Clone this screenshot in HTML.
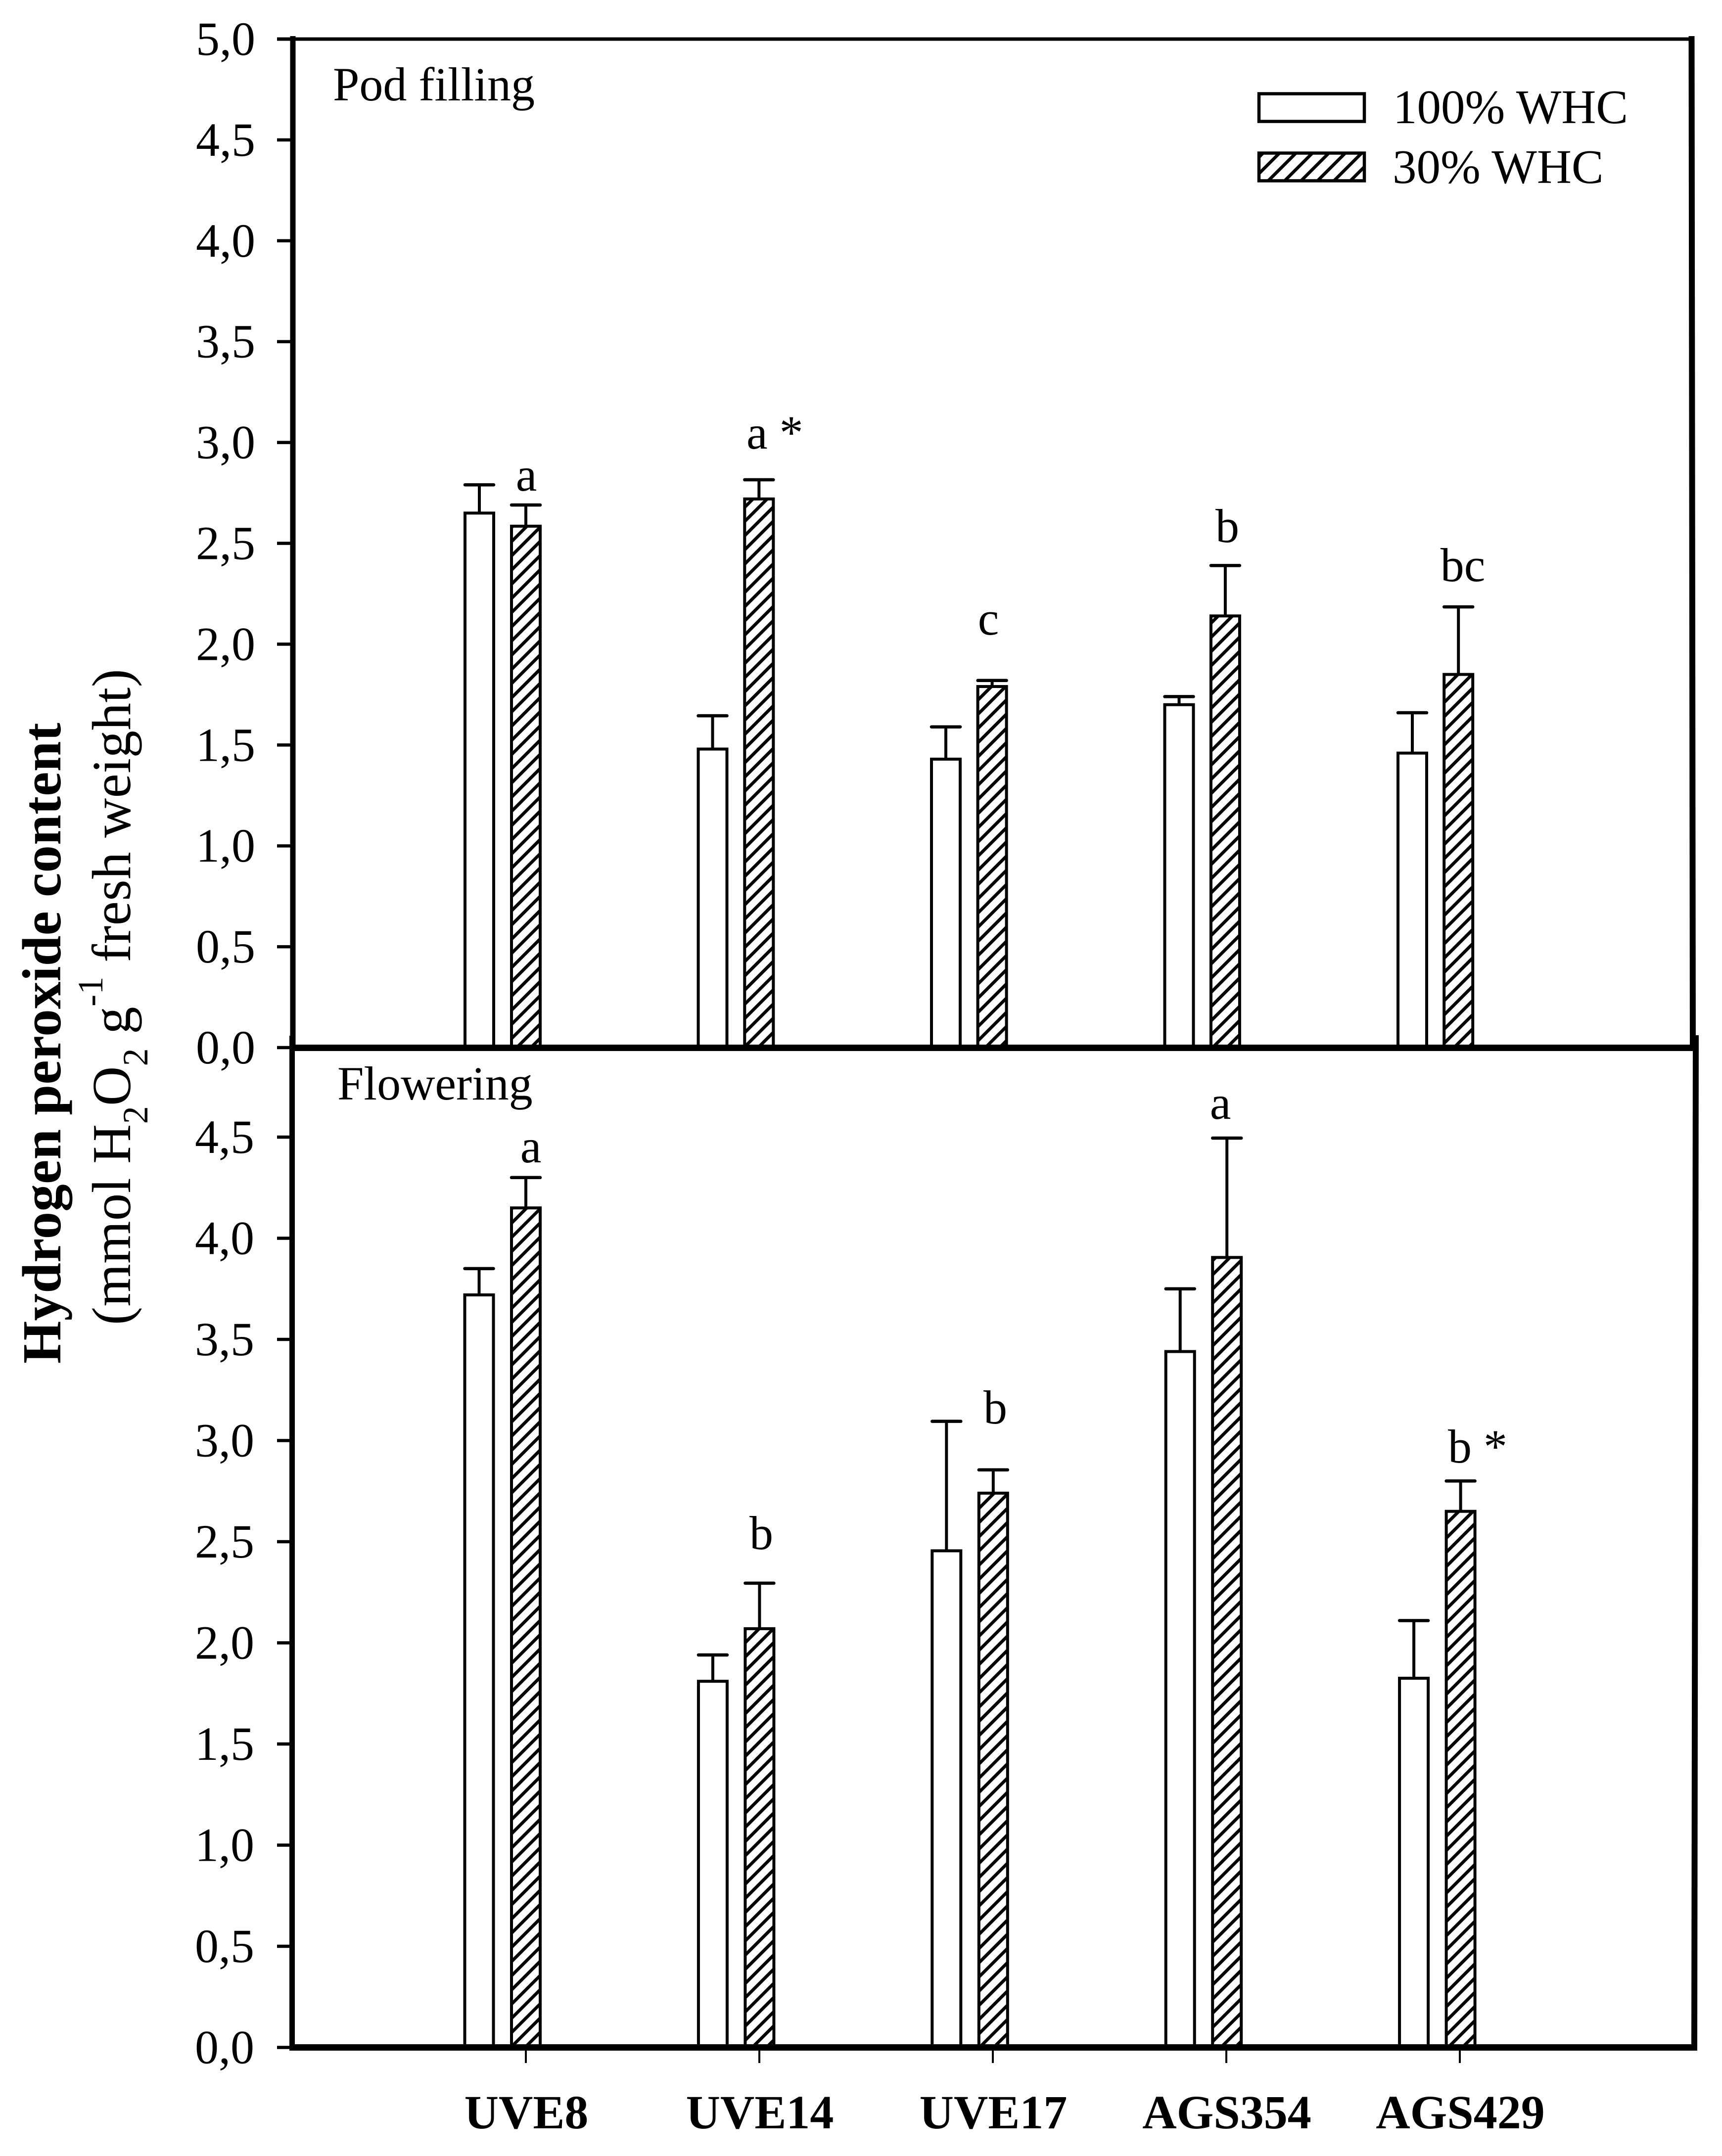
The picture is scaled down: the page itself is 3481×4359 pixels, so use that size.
<!DOCTYPE html>
<html lang="en">
<head>
<meta charset="utf-8">
<title>Hydrogen peroxide content</title>
<style>
html,body{margin:0;padding:0;background:#fff;}
svg{display:block;}
text{font-family:"Liberation Serif","Times New Roman",serif;font-size:96px;fill:#000;}
</style>
</head>
<body>
<svg id="chart" xmlns="http://www.w3.org/2000/svg" width="3481" height="4359" viewBox="0 0 3481 4359">
<defs>
<pattern id="hatch" patternUnits="userSpaceOnUse" width="20.3" height="20.3" patternTransform="rotate(45)">
<rect width="20.3" height="20.3" fill="#fff"/>
<rect width="6.5" height="20.3" fill="#000"/>
</pattern>
<pattern id="hatch-legend" patternUnits="userSpaceOnUse" width="23.5" height="23.5" patternTransform="rotate(45)">
<rect width="23.5" height="23.5" fill="#fff"/>
<rect width="6.5" height="23.5" fill="#000"/>
</pattern>
</defs>
<rect width="3481" height="4359" fill="#fff"/>
<g id="marks"></g>
<g id="axes"></g>

<text x="673" y="203">Pod filling</text>
<text x="682" y="2223">Flowering</text>

<g>
<rect x="2545" y="189.5" width="213" height="56" fill="#fff" stroke="#000" stroke-width="6.5"/>
<text x="2816" y="249" style="font-size:97px">100% WHC</text>
<rect x="2545" y="309.5" width="213" height="56" fill="url(#hatch-legend)" stroke="#000" stroke-width="6.5"/>
<text x="2815" y="370" style="font-size:97px">30% WHC</text>
</g>

<g>
<text x="1064" y="992" text-anchor="middle">a</text>
<text x="1509" y="907">a *</text>
<text x="1998" y="1283" text-anchor="middle">c</text>
<text x="2481" y="1096" text-anchor="middle">b</text>
<text x="2957" y="1175" text-anchor="middle">bc</text>
</g>
<g>
<text x="1073" y="2350" text-anchor="middle">a</text>
<text x="1539" y="3132" text-anchor="middle">b</text>
<text x="2012" y="2878" text-anchor="middle">b</text>
<text x="2467" y="2262" text-anchor="middle">a</text>
<text x="2927" y="2957">b *</text>
</g>

<text transform="translate(122,2757) rotate(-90)" style="font-size:111px;font-weight:bold;letter-spacing:0.2px">Hydrogen peroxide content</text>
<text transform="translate(263,2679) rotate(-90)" style="font-size:111px;letter-spacing:0.4px">(mmol H<tspan dy="35" style="font-size:72px">2</tspan><tspan dy="-35">O</tspan><tspan dy="35" style="font-size:72px">2</tspan><tspan dy="-35"> g</tspan><tspan dy="-56" style="font-size:72px">-1</tspan><tspan dy="56"> fresh weight)</tspan></text>
</svg>
<script>
const categories = ['UVE8', 'UVE14', 'UVE17', 'AGS354', 'AGS429'];
const tickLabels = ['0,0', '0,5', '1,0', '1,5', '2,0', '2,5', '3,0', '3,5', '4,0', '4,5', '5,0'];
const tickValues = [0, 0.5, 1, 1.5, 2, 2.5, 3, 3.5, 4, 4.5, 5];

const podWet = [2.65, 1.48, 1.43, 1.70, 1.46];
const podWetTop = [2.79, 1.645, 1.59, 1.74, 1.66];
const podDry = [2.585, 2.72, 1.79, 2.14, 1.85];
const podDryTop = [2.69, 2.815, 1.82, 2.39, 2.185];

const flowerWet = [3.72, 1.81, 2.455, 3.44, 1.825];
const flowerWetTop = [3.85, 1.94, 3.095, 3.75, 2.11];
const flowerDry = [4.15, 2.07, 2.74, 3.905, 2.65];
const flowerDryTop = [4.30, 2.295, 2.855, 4.495, 2.80];

const SVGNS = 'http://www.w3.org/2000/svg';
const marks = document.getElementById('marks');
const axes = document.getElementById('axes');

function make(parent, tag, attrs) {
  const el = document.createElementNS(SVGNS, tag);
  for (const k in attrs) el.setAttribute(k, attrs[k]);
  parent.appendChild(el);
  return el;
}

const podY = v => 2118 - v * 407.8;
const flowerY = v => 4139.5 - v * 409;
const podWetX = i => 969 + i * 471.5;
const podDryX = i => 1063 + i * 471.3;
const flowerWetX = i => 968.5 + i * 472.4;
const flowerDryX = i => 1063 + i * 472.4;
const tickX = i => 1063 + i * 472;

const BAR_W = 58;
const CAP_W = 64;

function drawBar(x, yTop, yBase, capY, hatched, name) {
  const g = make(marks, 'g', {});
  
  
  const stem = make(g, 'line', {x1: x, x2: x, y1: yTop, y2: capY, stroke: '#000', 'stroke-width': 6});
  
  
  const cap = make(g, 'line', {x1: x - CAP_W / 2 + 3, x2: x + CAP_W / 2 - 3, y1: capY, y2: capY, stroke: '#000', 'stroke-width': 6.5, 'stroke-linecap': 'round'});
  
  
  const rect = make(g, 'rect', {
    x: x - BAR_W / 2, y: yTop, width: BAR_W, height: yBase - yTop,
    fill: hatched ? 'url(#hatch)' : '#fff', stroke: '#000', 'stroke-width': 6
  });
  
  
}

categories.forEach((c, i) => {
  const key = c.toLowerCase();
  drawBar(podWetX(i), podY(podWet[i]), podY(0), podY(podWetTop[i]), false, 'bar-pod-100-whc-' + key);
  drawBar(podDryX(i), podY(podDry[i]), podY(0), podY(podDryTop[i]), true, 'bar-pod-30-whc-' + key);
  drawBar(flowerWetX(i), flowerY(flowerWet[i]), flowerY(0), flowerY(flowerWetTop[i]), false, 'bar-flowering-100-whc-' + key);
  drawBar(flowerDryX(i), flowerY(flowerDry[i]), flowerY(0), flowerY(flowerDryTop[i]), true, 'bar-flowering-30-whc-' + key);
});

function axisLine(x1, y1, x2, y2, w, name) {
  const l = make(axes, 'line', {x1, y1, x2, y2, stroke: '#000', 'stroke-width': w});
  
  
}

axisLine(560, 79, 3425, 79, 7, 'pod-top-frame');
axisLine(592, 73, 592, 2125, 11, 'pod-left-axis');
axisLine(3419.5, 73, 3422, 2125, 12, 'pod-right-frame');
axisLine(586, 2118.5, 3428, 2118.5, 13, 'pod-x-axis');
axisLine(590.5, 2094, 590.5, 4146, 11, 'flowering-left-axis');
axisLine(3428, 2093, 3425, 4146, 12, 'flowering-right-frame');
axisLine(585, 4139.5, 3431, 4139.5, 13, 'flowering-x-axis');

tickValues.forEach((v, i) => {
  const yP = podY(v);
  axisLine(560, yP, 590, yP, 6.5, 'pod-y-tick-' + i);
  const t = make(axes, 'text', {x: 516, y: yP + 32, 'text-anchor': 'end'});
  
  
  t.textContent = tickLabels[i];
  if (v < 5) {
    const yF = flowerY(v);
    axisLine(560, yF, 590, yF, 6.5, 'flowering-y-tick-' + i);
    const tf = make(axes, 'text', {x: 514, y: yF + 32, 'text-anchor': 'end'});
    
    
    tf.textContent = tickLabels[i];
  }
});

categories.forEach((c, i) => {
  const x = tickX(i);
  axisLine(x, 4142, x, 4171, 4, 'x-tick-' + c.toLowerCase());
  const t = make(axes, 'text', {x: x + 1, y: 4303, 'text-anchor': 'middle', style: 'font-weight:bold'});
  
  
  t.textContent = c;
});
</script>
</body>
</html>
